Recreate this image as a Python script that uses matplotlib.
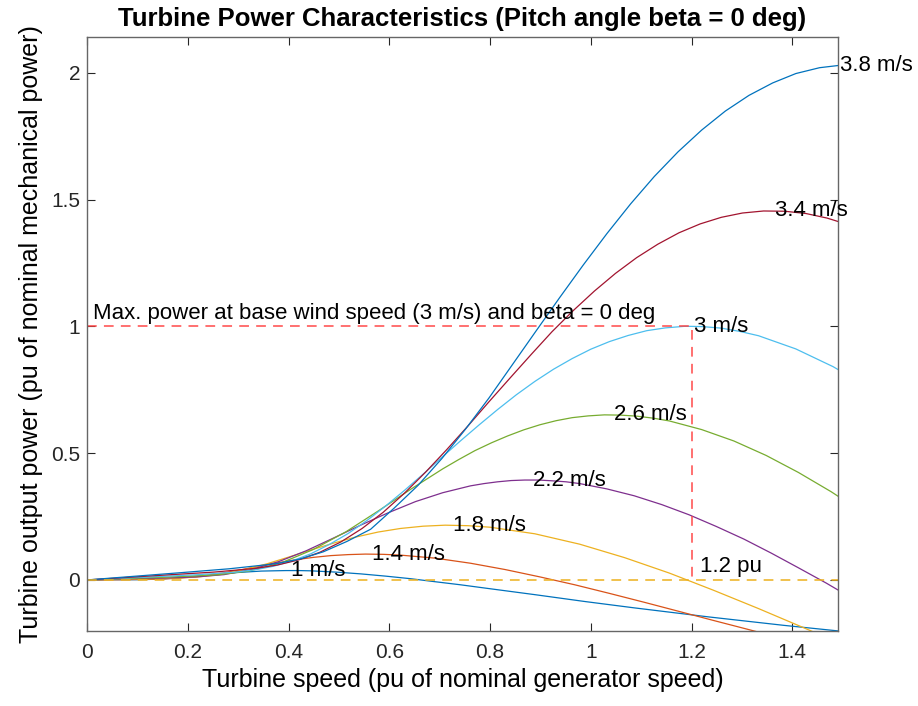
import matplotlib.pyplot as plt

plt.rcParams['font.family'] = ['Liberation Sans', 'DejaVu Sans']

# turbine power curves, one per wind speed (pu speed, pu power)
labels = ['1 m/s', '1.4 m/s', '1.8 m/s', '2.2 m/s', '2.6 m/s', '3 m/s', '3.4 m/s', '3.8 m/s']

speed_1 = [0, 0.049, 0.074, 0.099, 0.123, 0.148, 0.173, 0.198, 0.222, 0.247, 0.272, 0.296, 0.321,
           0.346, 0.370, 0.395, 0.420, 0.444, 0.494, 0.543, 0.593, 0.642, 0.691, 0.741, 0.790,
           0.889, 0.988, 1.086, 1.235, 1.383, 1.491]
power_1 = [0, 0.001, 0.001, 0.001, 0.002, 0.004, 0.007, 0.011, 0.015, 0.020, 0.025, 0.029, 0.032,
           0.035, 0.036, 0.037, 0.037, 0.036, 0.031, 0.024, 0.015, 0.005, -0.007, -0.019, -0.032,
           -0.058, -0.085, -0.110, -0.146, -0.179, -0.201]

speed_14 = [0, 0.069, 0.104, 0.138, 0.173, 0.207, 0.242, 0.277, 0.311, 0.346, 0.380, 0.415, 0.449,
            0.484, 0.519, 0.553, 0.588, 0.622, 0.691, 0.761, 0.830, 0.899, 0.968, 1.037, 1.106,
            1.175, 1.244, 1.314, 1.383]
power_14 = [0, 0.001, 0.002, 0.003, 0.006, 0.011, 0.019, 0.030, 0.042, 0.056, 0.068, 0.080, 0.089,
            0.096, 0.100, 0.102, 0.101, 0.098, 0.086, 0.066, 0.041, 0.012, -0.019, -0.053, -0.088,
            -0.124, -0.160, -0.196, -0.232]

speed_18 = [0, 0.089, 0.133, 0.178, 0.222, 0.267, 0.311, 0.356, 0.400, 0.444, 0.489, 0.533, 0.578,
            0.622, 0.667, 0.711, 0.756, 0.800, 0.889, 0.978, 1.067, 1.156, 1.244, 1.333, 1.422, 1.511]
power_18 = [0, 0.003, 0.005, 0.007, 0.012, 0.022, 0.040, 0.063, 0.090, 0.118, 0.145, 0.169, 0.189,
            0.203, 0.212, 0.216, 0.214, 0.208, 0.182, 0.141, 0.088, 0.027, -0.041, -0.113, -0.188, -0.264]

speed_22 = [0, 0.109, 0.163, 0.217, 0.272, 0.326, 0.380, 0.435, 0.489, 0.543, 0.598, 0.652, 0.706,
            0.761, 0.788, 0.815, 0.842, 0.869, 0.896, 0.923, 0.951, 0.978, 1.032, 1.086, 1.141,
            1.195, 1.249, 1.304, 1.358, 1.412, 1.467, 1.521]
power_22 = [0, 0.006, 0.008, 0.012, 0.021, 0.041, 0.072, 0.115, 0.165, 0.216, 0.265, 0.309, 0.344,
            0.371, 0.380, 0.387, 0.392, 0.394, 0.394, 0.391, 0.387, 0.380, 0.359, 0.332, 0.297,
            0.257, 0.211, 0.161, 0.106, 0.048, -0.012, -0.075]

speed_26 = [0, 0.128, 0.193, 0.257, 0.321, 0.385, 0.449, 0.514, 0.578, 0.642, 0.706, 0.738, 0.770,
            0.803, 0.835, 0.867, 0.899, 0.931, 0.963, 0.995, 1.027, 1.059, 1.091, 1.124, 1.156,
            1.220, 1.284, 1.348, 1.412, 1.477, 1.541]
power_26 = [0, 0.009, 0.014, 0.020, 0.035, 0.067, 0.120, 0.190, 0.272, 0.357, 0.438, 0.475, 0.510,
            0.541, 0.568, 0.592, 0.612, 0.628, 0.640, 0.647, 0.651, 0.650, 0.646, 0.638, 0.627,
            0.593, 0.548, 0.491, 0.424, 0.348, 0.265]

speed_30 = [0, 0.148, 0.222, 0.296, 0.333, 0.370, 0.407, 0.444, 0.481, 0.519, 0.556, 0.593, 0.630,
            0.667, 0.704, 0.741, 0.778, 0.815, 0.852, 0.889, 0.926, 0.963, 1.000, 1.037, 1.074,
            1.111, 1.148, 1.185, 1.200, 1.222, 1.259, 1.296, 1.333, 1.407, 1.481, 1.556]
power_30 = [0, 0.014, 0.021, 0.031, 0.040, 0.054, 0.075, 0.103, 0.140, 0.184, 0.235, 0.292, 0.353,
            0.417, 0.483, 0.548, 0.611, 0.672, 0.730, 0.783, 0.831, 0.873, 0.910, 0.940, 0.964,
            0.983, 0.994, 1.000, 1.000, 0.999, 0.993, 0.980, 0.963, 0.911, 0.841, 0.754]

speed_34 = [0, 0.168, 0.252, 0.336, 0.378, 0.420, 0.462, 0.504, 0.546, 0.588, 0.630, 0.672, 0.714,
            0.756, 0.798, 0.840, 0.882, 0.923, 0.965, 1.007, 1.049, 1.091, 1.133, 1.175, 1.217,
            1.259, 1.301, 1.343, 1.385, 1.427, 1.469, 1.511]
power_34 = [0, 0.021, 0.031, 0.046, 0.059, 0.079, 0.109, 0.150, 0.203, 0.267, 0.342, 0.425, 0.514,
            0.607, 0.703, 0.797, 0.890, 0.979, 1.062, 1.139, 1.209, 1.271, 1.324, 1.369, 1.404,
            1.430, 1.447, 1.455, 1.454, 1.445, 1.427, 1.401]

speed_38 = [0, 0.188, 0.282, 0.375, 0.422, 0.469, 0.516, 0.563, 0.610, 0.657, 0.704, 0.751, 0.798,
            0.844, 0.891, 0.938, 0.985, 1.032, 1.079, 1.126, 1.173, 1.220, 1.267, 1.314, 1.361,
            1.407, 1.454, 1.501]
power_38 = [0, 0.029, 0.044, 0.064, 0.082, 0.111, 0.152, 0.200, 0.284, 0.373, 0.478, 0.594, 0.718,
            0.848, 0.981, 1.113, 1.242, 1.366, 1.483, 1.591, 1.688, 1.774, 1.849, 1.911, 1.960,
            1.997, 2.020, 2.031]

# label anchors sit on the maximum of each curve
peak_speed = [0.40, 0.56, 0.72, 0.88, 1.04, 1.20, 1.36, 1.49]
peak_power = [0.037, 0.102, 0.216, 0.394, 0.651, 1.000, 1.456, 2.030]

base_speed = 1.2
base_power = 1.0

curves = [(speed_1, power_1), (speed_14, power_14), (speed_18, power_18), (speed_22, power_22),
          (speed_26, power_26), (speed_30, power_30), (speed_34, power_34), (speed_38, power_38)]
colors = ['#0072BD', '#D95319', '#EDB120', '#7E2F8E', '#77AC30', '#4DBEEE', '#A2142F', '#0072BD']

fig = plt.figure(figsize=(9.18, 7.06), dpi=100)
ax = fig.add_axes([0.0948, 0.1067, 0.8177, 0.8405])

for (x, y), c in zip(curves, colors):
    ax.plot(x, y, color=c, lw=0.9)

ax.plot([0, 1.49], [0, 0], color='#EDB120', lw=1.4, dashes=(5, 3.7), alpha=0.8)
ax.plot([0, base_speed, base_speed], [base_power, base_power, 0], color='#FF4040', lw=1.4,
        dashes=(5, 3.7), alpha=0.75)

for lab, xs, ys in zip(labels, peak_speed, peak_power):
    ax.annotate(lab, (xs, ys), xytext=(2, 0), textcoords='offset points',
                ha='left', va='center', fontsize=16, color='black')

ax.annotate('Max. power at base wind speed (3 m/s) and beta = 0 deg', (0, base_power),
            xytext=(4, 9), textcoords='offset points', ha='left', va='center', fontsize=16)
ax.annotate('1.2 pu', (base_speed, 0), xytext=(6, 10), textcoords='offset points',
            ha='left', va='center', fontsize=16)

ax.set_xlim(0, 1.49)
ax.set_ylim(-0.2, 2.14)
ax.set_xticks([0, 0.2, 0.4, 0.6, 0.8, 1.0, 1.2, 1.4])
ax.set_xticklabels(['0', '0.2', '0.4', '0.6', '0.8', '1', '1.2', '1.4'])
ax.set_yticks([0, 0.5, 1.0, 1.5, 2.0])
ax.set_yticklabels(['0', '0.5', '1', '1.5', '2'])

ax.tick_params(direction='in', length=5.5, width=0.8, top=True, right=True,
               labelsize=15, colors='#262626')
ax.tick_params(axis='x', pad=9)
ax.tick_params(axis='y', pad=5)
for s in ax.spines.values():
    s.set_color('#666666')
    s.set_linewidth(1.0)

ax.set_title('Turbine Power Characteristics (Pitch angle beta = 0 deg)',
             fontsize=18.5, fontweight='bold', pad=8)
ax.set_xlabel('Turbine speed (pu of nominal generator speed)', fontsize=18, labelpad=4)
ax.set_ylabel('Turbine output power (pu of nominal mechanical power)', fontsize=18, labelpad=6)

fig.savefig('out.png', dpi=100)
